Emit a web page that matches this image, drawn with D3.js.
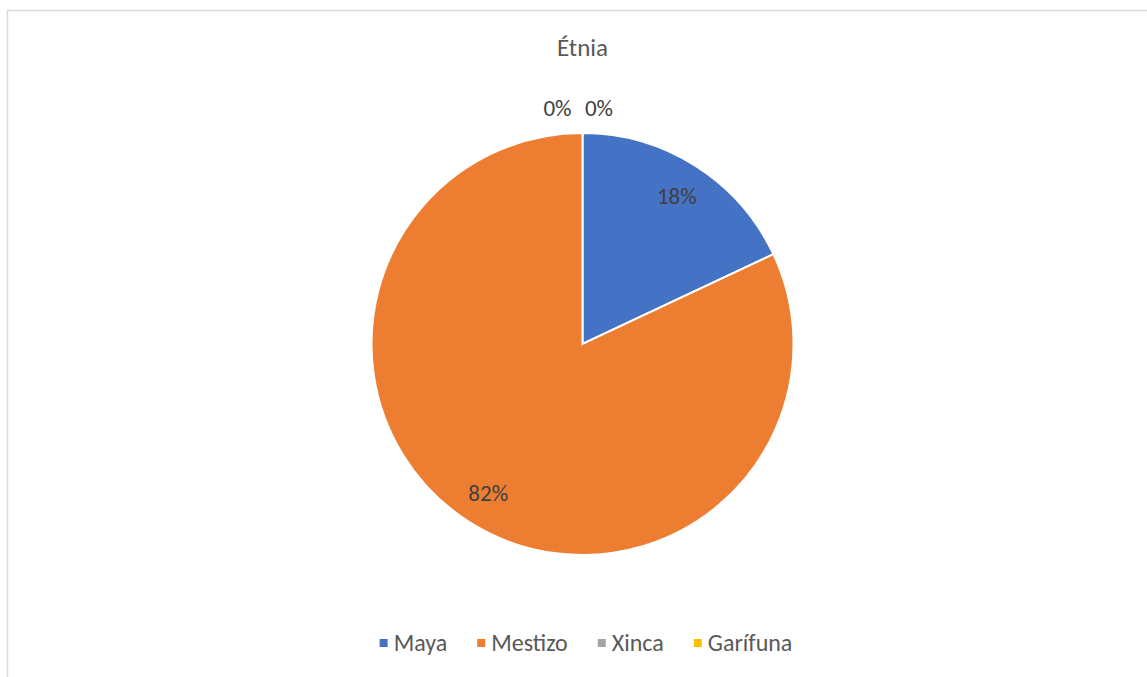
<!DOCTYPE html>
<html>
<head>
<meta charset="utf-8">
<script src="https://cdn.jsdelivr.net/npm/d3@7"></script>
<style>
  body { margin: 0; background: #fff; }
  svg text { font-family: Carlito, Calibri, Lato, "Open Sans", sans-serif; }
</style>
</head>
<body>
<div id="chart"></div>
<script>
const categories = ["Maya", "Mestizo", "Xinca", "Garífuna"];
const values = [18, 82, 0, 0];
const labels = ["18%", "82%", "0%", "0%"];
const colors = ["#4472c4", "#ed7d31", "#a5a5a5", "#ffc000"];
const title = "Étnia";

const width = 1147, height = 677;
const cx = 582.5, cy = 344, radius = 211;

const svg = d3.select("#chart").append("svg")
    .attr("width", width)
    .attr("height", height);

// chart area border (runs off the right and bottom edges)
svg.append("rect")
    .attr("x", 7.5).attr("y", 10.5)
    .attr("width", width + 20).attr("height", height + 20)
    .attr("fill", "#fff")
    .attr("stroke", "#d9d9d9")
    .attr("stroke-width", 1.5);

svg.append("text")
    .attr("x", cx).attr("y", 56)
    .attr("text-anchor", "middle")
    .attr("fill", "#595959")
    .style("font-size", "25px")
    .text(title);

const data = categories.map((c, i) => ({ name: c, value: values[i], label: labels[i], color: colors[i] }));

const pie = d3.pie().sort(null).value(d => d.value);
const arcs = pie(data);

const arc = d3.arc().innerRadius(0).outerRadius(radius);
const labelArc = d3.arc().innerRadius(176).outerRadius(176);
const outerArc = d3.arc().innerRadius(236).outerRadius(236);

const g = svg.append("g").attr("transform", `translate(${cx},${cy})`);

g.selectAll("path.slice")
    .data(arcs.filter(d => d.value > 0))
    .enter().append("path")
    .attr("class", "slice")
    .attr("d", arc)
    .attr("fill", d => d.data.color)
    .attr("stroke", "#fff")
    .attr("stroke-width", 2);

// labels: inside for real slices, outside (spread around top) for zero slices
let zeroIdx = 0;
const zeroOffsets = [-25, 16.5];
g.selectAll("text.lbl")
    .data(arcs)
    .enter().append("text")
    .attr("class", "lbl")
    .attr("text-anchor", "middle")
    .attr("dy", "0.36em")
    .attr("fill", "#404040")
    .style("font-size", "23px")
    .attr("transform", d => {
        if (d.value > 0) {
            const [x, y] = labelArc.centroid(d);
            return `translate(${x},${y})`;
        }
        const [x, y] = outerArc.centroid(d);
        const off = zeroOffsets[zeroIdx++];
        return `translate(${x + off},${y})`;
    })
    .text(d => d.data.label);

// legend
const legend = svg.append("g").attr("class", "legend");
const items = legend.selectAll("g.item")
    .data(data)
    .enter().append("g")
    .attr("class", "item");

items.append("rect")
    .attr("width", 8).attr("height", 8)
    .attr("y", -12)
    .attr("fill", d => d.color);

items.append("text")
    .attr("x", 14)
    .attr("y", 0)
    .attr("fill", "#595959")
    .style("font-size", "24px")
    .text(d => d.name);

let xpos = 0;
const gap = 30;
items.each(function() {
    const w = 14 + d3.select(this).select("text").node().getComputedTextLength();
    d3.select(this).attr("transform", `translate(${xpos},0)`);
    xpos += w + gap;
});
const totalW = xpos - gap;
legend.attr("transform", `translate(${586 - totalW / 2},651)`);
</script>
</body>
</html>
